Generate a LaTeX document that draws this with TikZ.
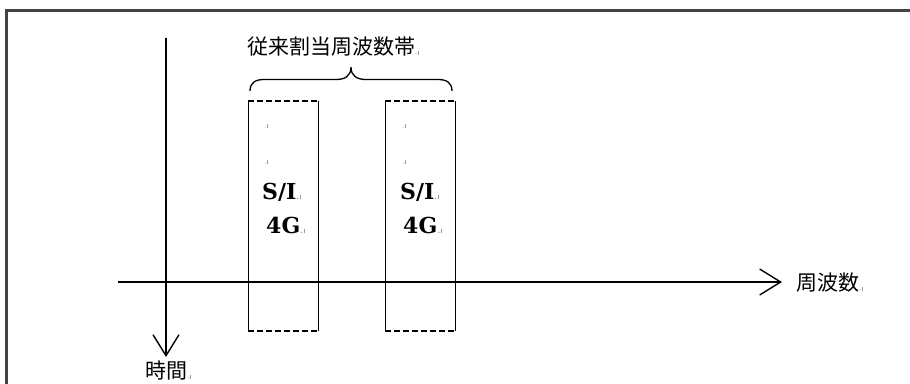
\documentclass[tikz,border=0pt]{standalone}
\usepackage{fontspec}
\newfontfamily\jpfont{Noto Sans CJK JP}
\newfontfamily\slabfont{DejaVu Serif}
\usetikzlibrary{arrows.meta}
\definecolor{framegray}{HTML}{444444}
\newcommand\pmark{\textcolor{gray!80}{\fontsize{8}{8}\selectfont .\kern0.6pt\rule{0.7pt}{4pt}}}
\tikzset{
  jp/.style={font=\jpfont\fontsize{21}{23}\selectfont, inner sep=0pt},
  bold/.style={font=\slabfont\bfseries\fontsize{22}{24}\selectfont, inner sep=0pt},
  axis/.style={line width=1.5pt, -{Straight Barb[length=21pt,width=26pt,line width=1.4pt]}},
  band/.style={draw=none, minimum width=70pt, minimum height=230pt, inner sep=0pt},
  side/.style={line width=1.5pt},
  edge/.style={line width=1.5pt, dash pattern=on 6pt off 3pt},
  mk/.style={inner sep=0pt},
}
\begin{document}
\begin{tikzpicture}[x=1pt,y=-1pt]
\useasboundingbox (0,0) rectangle (910,383);
% frame
\draw[framegray, line width=2.2pt] (6.5,390) -- (6.5,10.5) -- (915,10.5);
% axes
\coordinate (t1) at (166,38);
\coordinate (t2) at (166,357);
\coordinate (f1) at (118,282);
\coordinate (f2) at (782,282);
\draw[axis] (t1) -- (t2);
\draw[axis] (f1) -- (f2);
\node[jp, anchor=west] (freq) at (796,283) {周波数\pmark};
\node[jp] (time) at (168,371) {時間\pmark};
% bands
\node[band] (b1) at (283.5,216) {};
\node[band] (b2) at (420.5,216) {};
\foreach \b in {b1,b2}{
  \draw[edge] (\b.north west) -- (\b.north east);
  \draw[edge] (\b.south west) -- (\b.south east);
  \draw[side] (\b.north west) -- (\b.south west);
  \draw[side] (\b.north east) -- (\b.south east);
}
\node[mk, anchor=west] (m1a) at (264,126) {\pmark};
\node[mk, anchor=west] (m1b) at (264,162) {\pmark};
\node[mk, anchor=west] (m2a) at (402,126) {\pmark};
\node[mk, anchor=west] (m2b) at (402,162) {\pmark};
\node[bold, anchor=west] (si1) at (262,192) {S/I\pmark};
\node[bold, anchor=west] (g1) at (266,225) {4G\pmark};
\node[bold, anchor=west] (si2) at (400,192) {S/I\pmark};
\node[bold, anchor=west] (g2) at (403,225) {4G\pmark};
% brace
\coordinate (bl) at (250,91);
\coordinate (br) at (452,91);
\coordinate (bt) at (351,67);
\draw[line width=1.3pt] (bl) .. controls (250,83) and (255,79.5) .. (264,79.5) -- (336,79.5)
  .. controls (345,79.5) and (351,76) .. (bt)
  .. controls (351,76) and (357,79.5) .. (366,79.5) -- (438,79.5)
  .. controls (447,79.5) and (452,83) .. (br);
\node[jp, anchor=west] (lab) at (247,47) {従来割当周波数帯\pmark};
\end{tikzpicture}
\end{document}
